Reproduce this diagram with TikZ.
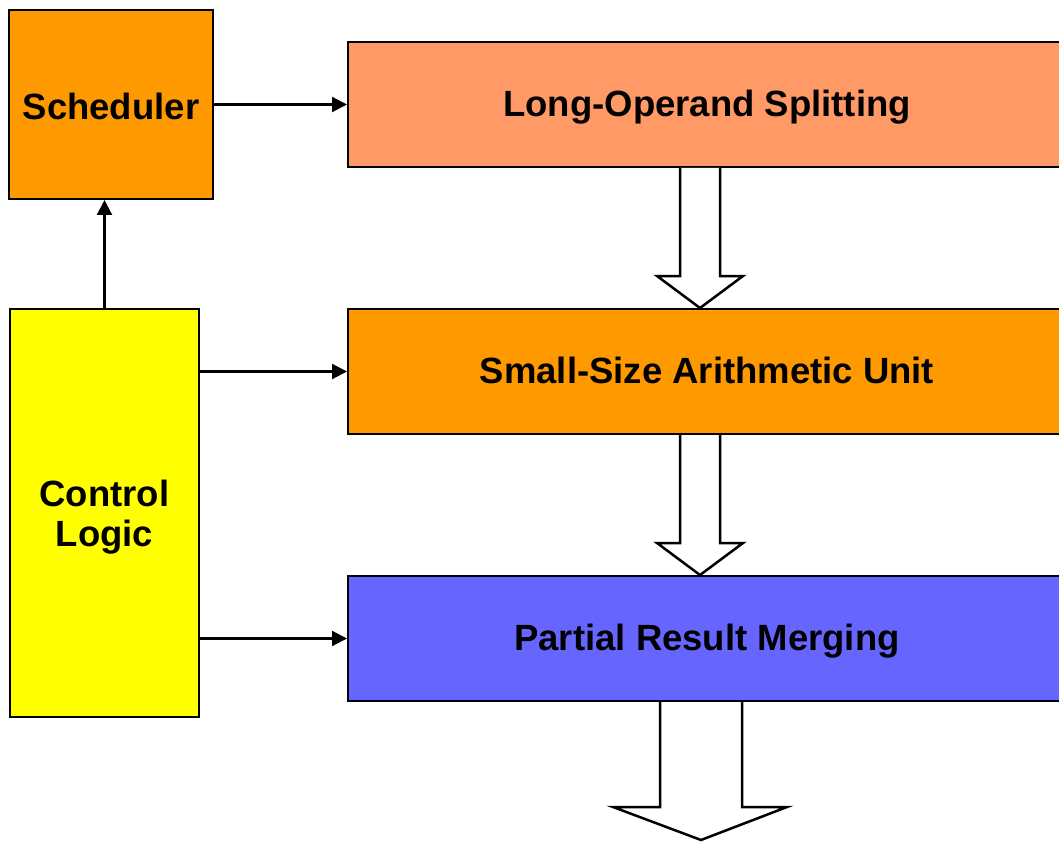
\documentclass[tikz,border=0pt]{standalone}
\usepackage{fontspec}
\setmainfont{Liberation Sans}
\usetikzlibrary{arrows.meta,calc}
\definecolor{schedorange}{HTML}{FF9900}
\definecolor{splitsalmon}{HTML}{FF9966}
\definecolor{mergeblue}{HTML}{6666FF}
\definecolor{ctrlyellow}{HTML}{FFFF00}
\begin{document}
\begin{tikzpicture}[x=1pt,y=-1pt,
  box/.style={draw=black,line width=2pt,font=\fontsize{36.5}{39.5}\selectfont\bfseries,align=center,inner sep=0pt,text height=24pt,text depth=0pt},
  conn/.style={line width=2.2pt,-{Triangle[length=15pt,width=15pt]}},
  hollow/.style={draw=black,fill=white,line width=2.5pt,line join=miter}]
\useasboundingbox (0,0) rectangle (1059,842);
\clip (0,0) rectangle (1059,842);
\node[box,fill=schedorange,minimum width=204pt,minimum height=189pt,text height=31pt] (sch) at (111,104.5) {Scheduler};
\node[box,fill=ctrlyellow,minimum width=189pt,minimum height=408pt,text height=66pt] (cl) at (104.5,513) {Control\\Logic};
\node[box,fill=splitsalmon,minimum width=718pt,minimum height=125pt] (los) at (707,104.5) {Long-Operand Splitting};
\node[box,fill=schedorange,minimum width=718pt,minimum height=125pt] (ssa) at (707,371.5) {Small-Size Arithmetic Unit};
\node[box,fill=mergeblue,minimum width=718pt,minimum height=125pt] (prm) at (707,638.5) {Partial Result Merging};
\coordinate (out) at (701,840);
% connectors
\draw[conn] (sch.east) -- (los.west);
\draw[conn] (cl.north) -- (cl.north |- sch.south);
\draw[conn] (cl.east |- ssa.west) -- (ssa.west);
\draw[conn] (cl.east |- prm.west) -- (prm.west);
% hollow arrows
\path[hollow] ($(los.south)+(-27,0)$) -- ($(ssa.north)+(-27,-32)$) -- ($(ssa.north)+(-50,-32)$) -- ($(ssa.north)+(-7,0)$) -- ($(ssa.north)+(36,-32)$) -- ($(ssa.north)+(13,-32)$) -- ($(los.south)+(13,0)$);
\path[hollow] ($(ssa.south)+(-27,0)$) -- ($(prm.north)+(-27,-32)$) -- ($(prm.north)+(-50,-32)$) -- ($(prm.north)+(-7,0)$) -- ($(prm.north)+(36,-32)$) -- ($(prm.north)+(13,-32)$) -- ($(ssa.south)+(13,0)$);
\path[hollow] ($(prm.south)+(-47,0)$) -- ($(out)+(-41,-33)$) -- ($(out)+(-88,-33)$) -- (out) -- ($(out)+(86,-33)$) -- ($(out)+(41,-33)$) -- ($(prm.south)+(35,0)$);
\end{tikzpicture}
\end{document}
